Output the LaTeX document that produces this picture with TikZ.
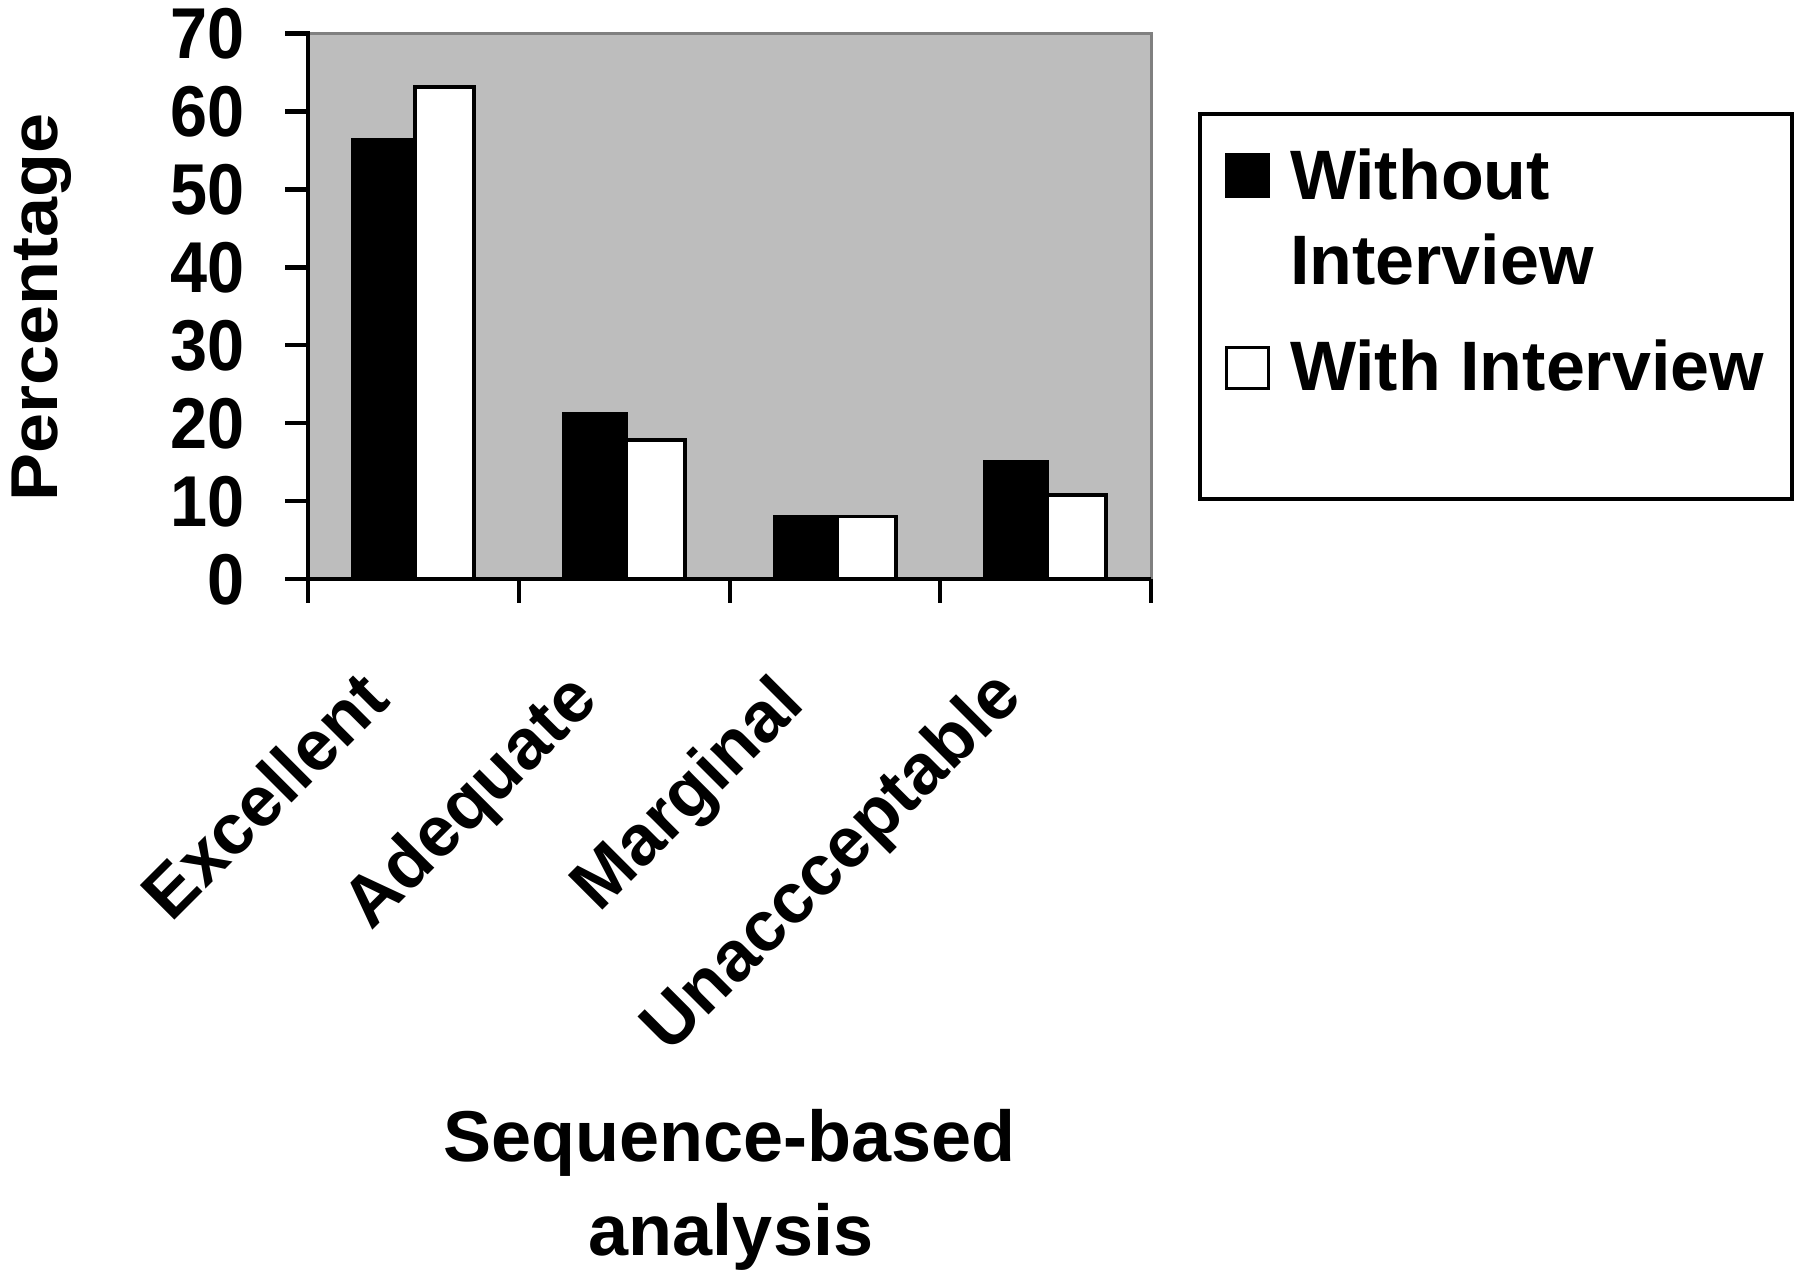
\documentclass[tikz,border=0pt]{standalone}
\usepackage{fontspec}
\setmainfont{Liberation Sans}
\usepackage{graphicx}
\definecolor{plotbg}{RGB}{189,189,189}
\definecolor{plotedge}{RGB}{128,128,128}
\begin{document}
\begin{tikzpicture}[x=1pt,y=-1pt,
  axisline/.style={line width=4.5pt, black},
  barblack/.style={fill=black, draw=black, line width=3.5pt},
  barwhite/.style={fill=white, draw=black, line width=3.5pt},
  lbl/.style={inner sep=0pt, outer sep=0pt, font=\bfseries\fontsize{72}{86}\selectfont},
  catlbl/.style={lbl, font=\bfseries\fontsize{71}{85}\selectfont, rotate=45, anchor=base east},
  leglbl/.style={lbl, font=\bfseries\fontsize{70}{84}\selectfont, anchor=base west}]
\useasboundingbox (0,0) rectangle (1800,1275);

% plot area
\fill[plotbg] (308,33) rectangle (1151,579);
\draw[plotedge, line width=3pt] (308,33) -- (1151,33) -- (1151,579);

% bars
\foreach \c/\a/\b [count=\i] in {308/56.5/63.3,519/21.4/18.0,730/8.2/8.2,940/15.2/11.0} {
  \path[barblack] ({\c+45},579) rectangle ({\c+107},{580.5-7.793*\a});
  \path[barwhite] ({\c+107},579) rectangle ({\c+166},{580.5-7.793*\b});
}

% axes
\draw[axisline] (308,31) -- (308,579) -- (1151,579);
\foreach \v/\t in {0/0,1/10,2/20,3/30,4/40,5/50,6/60,7/70} {
  \draw[axisline] (285,{579-77.93*\v}) -- (308,{579-77.93*\v});
  \node[lbl, anchor=base east] (ylab\v) at (245,{579-77.93*\v+25.5}) {\scalebox{0.925}[1]{\t}};
}
\foreach \x in {308,519,730,940,1151} {
  \draw[axisline] (\x,579) -- (\x,603);
}

% category labels
\node[catlbl] (cat1) at (392,703) {Excellent};
\node[catlbl] (cat2) at (600,703) {Adequate};
\node[catlbl] (cat3) at (806,707) {Marginal};
\node[catlbl] (cat4) at (1024,700) {Unaccceptable};

% axis titles
\node[lbl, rotate=90, anchor=base] (ytitle) at (57,307.5) {\scalebox{1}[0.92]{Percentage}};
\node[lbl, anchor=base] (xtitle1) at (729.5,1161) {Sequence-based};
\node[lbl, anchor=base] (xtitle2) at (731,1255) {analysis};

% legend
\draw[black, line width=4pt] (1200,114) rectangle (1792,499);
\fill[black] (1225,152.5) rectangle (1270,198);
\draw[black, fill=white, line width=3pt] (1226.5,347.5) rectangle (1268.5,388);
\node[leglbl] (leg1a) at (1290,199) {Without};
\node[leglbl] (leg1b) at (1290,284.5) {Interview};
\node[leglbl] (leg2) at (1290,390.5) {With Interview};
\end{tikzpicture}
\end{document}
